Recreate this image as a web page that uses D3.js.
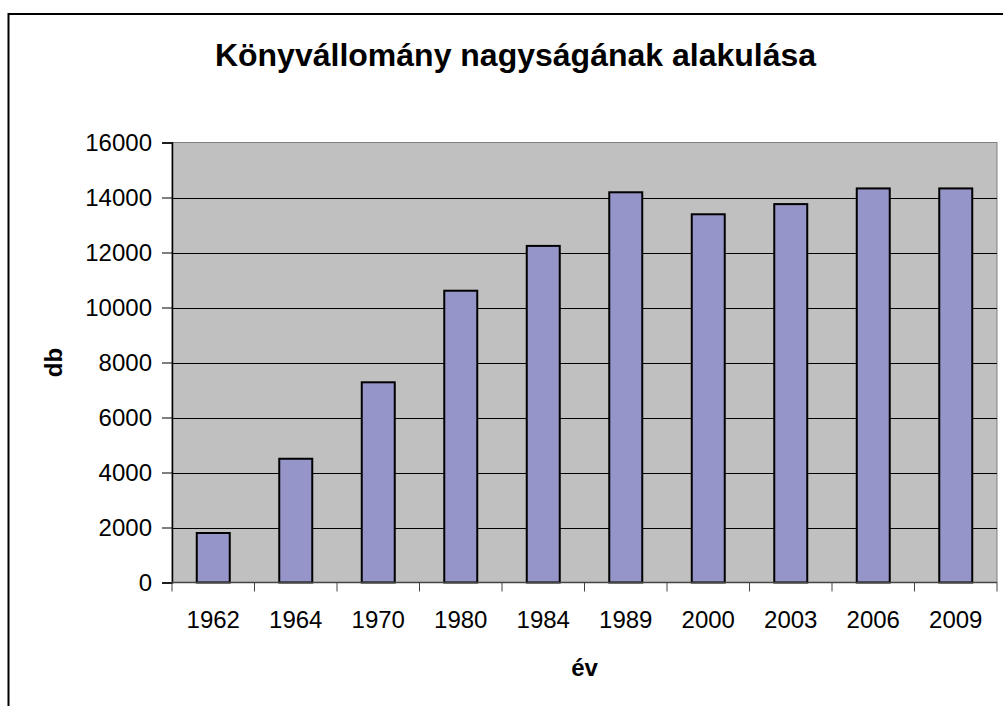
<!DOCTYPE html>
<html><head><meta charset="utf-8">
<script src="https://cdn.jsdelivr.net/npm/d3@7"></script>
<style>body{margin:0;background:#fff}svg{display:block}</style>
</head><body>
<script>
const categories = ["1962","1964","1970","1980","1984","1989","2000","2003","2006","2009"];
const values = [1800,4500,7280,10610,12240,14190,13390,13760,14330,14330];
const yTicks = [0,2000,4000,6000,8000,10000,12000,14000,16000];
const title = "Könyvállomány nagyságának alakulása";
const xTitle = "év", yTitle = "db";

const W = 1003, H = 706;
const svg = d3.select("body").append("svg").attr("width", W).attr("height", H);
const font = "Liberation Sans, Arial, sans-serif";

svg.append("rect").attr("x", 8.5).attr("y", 14).attr("width", 1100).attr("height", 800)
  .attr("fill", "#fff").attr("stroke", "#000").attr("stroke-width", 2);

const L = 172, R = 997, T = 142.5, B = 582.5;
const x = d3.scaleBand().domain(categories).range([L, R]).paddingInner(0.6).paddingOuter(0.3);
const xb = d3.scaleBand().domain(categories).range([L, R]);
const y = d3.scaleLinear().domain([0, 16000]).range([B, T]);

svg.append("rect").attr("x", L).attr("y", T).attr("width", R - L).attr("height", B - T)
  .attr("fill", "#C0C0C0").attr("stroke", "#808080").attr("stroke-width", 1);

// gridlines
svg.append("g").selectAll("line").data(yTicks.filter(d => d > 0 && d < 16000)).join("line")
  .attr("x1", L).attr("x2", R).attr("y1", d => Math.round(y(d)) + 0.5).attr("y2", d => Math.round(y(d)) + 0.5)
  .attr("stroke", "#000").attr("stroke-width", 1.2);

// bars
svg.append("g").selectAll("rect").data(values).join("rect")
  .attr("x", (d, i) => x(categories[i]))
  .attr("width", x.bandwidth())
  .attr("y", d => y(d))
  .attr("height", d => B - y(d))
  .attr("fill", "#9595C9").attr("stroke", "#000").attr("stroke-width", 2);

// y axis
const yAxis = d3.axisLeft(y).tickValues(yTicks).tickSize(10).tickPadding(10).tickFormat(d3.format("d"));
const gy = svg.append("g").attr("transform", `translate(${L},0)`).call(yAxis);
gy.select(".domain").attr("stroke", "#000").attr("stroke-width", 1.5);
gy.selectAll(".tick line").attr("stroke", "#000");
gy.selectAll("text").attr("font-family", font).attr("font-size", 24).attr("fill", "#000");

// x axis with ticks between categories
const gx = svg.append("g").attr("transform", `translate(0,${B})`);
gx.append("line").attr("x1", L).attr("x2", R).attr("stroke", "#444").attr("stroke-width", 1.5);
const bounds = categories.map(c => xb(c)).concat([R]);
gx.selectAll("line.tk").data(bounds).join("line").attr("class", "tk")
  .attr("x1", d => d).attr("x2", d => d).attr("y1", 0).attr("y2", 9).attr("stroke", "#444");
gx.selectAll("text").data(categories).join("text")
  .attr("x", d => xb(d) + xb.bandwidth() / 2).attr("y", 45.5)
  .attr("text-anchor", "middle").attr("font-family", font).attr("font-size", 24).text(d => d);

// titles
svg.append("text").attr("x", 515.5).attr("y", 66).attr("text-anchor", "middle")
  .attr("font-family", font).attr("font-weight", "bold").attr("font-size", 32).text(title);
svg.append("text").attr("x", (L + R) / 2).attr("y", 676).attr("text-anchor", "middle")
  .attr("font-family", font).attr("font-weight", "bold").attr("font-size", 24).text(xTitle);
svg.append("text").attr("transform", `translate(62,${(T + B) / 2}) rotate(-90)`).attr("text-anchor", "middle")
  .attr("font-family", font).attr("font-weight", "bold").attr("font-size", 24).text(yTitle);
</script>
</body></html>
